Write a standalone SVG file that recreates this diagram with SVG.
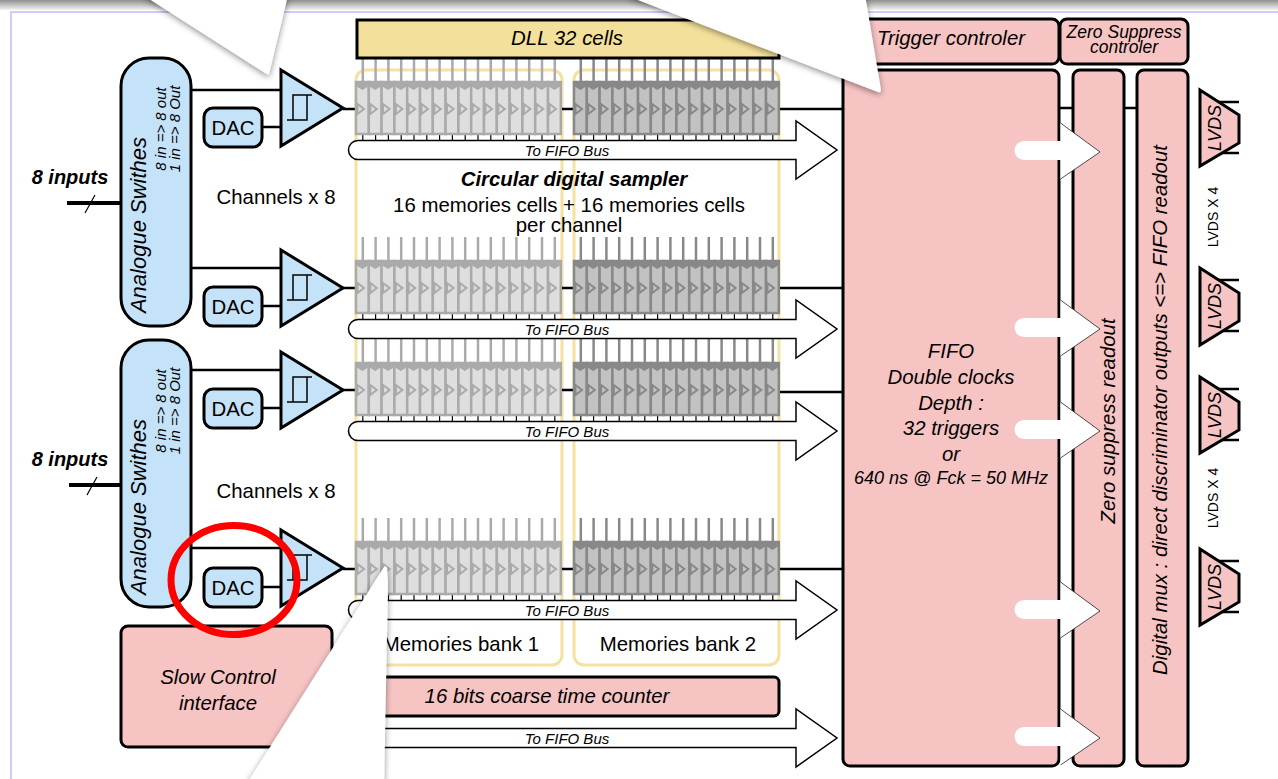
<svg xmlns="http://www.w3.org/2000/svg" xmlns:xlink="http://www.w3.org/1999/xlink" width="1278" height="779" viewBox="0 0 1278 779">
<style>
text{font-family:"Liberation Sans",Arial,sans-serif;fill:#000;text-anchor:middle}
.i{font-style:italic}
.b{font-weight:bold}
.f20{font-size:20.4px}
.blue{fill:#c5e3f8;stroke:#000;stroke-width:3}
.pink{fill:#f7c4c4;stroke:#000;stroke-width:3}
.wire{fill:none;stroke:#000;stroke-width:2.5}
.bus{fill:#fff;stroke:#000;stroke-width:1.5}
.bank{fill:none;stroke:#f5e2a0;stroke-width:3}
.c1{fill:#dedede;stroke:#aaa;stroke-width:2.5}
.c2{fill:#c2c2c2;stroke:#888;stroke-width:2.5}
.tri1{fill:none;stroke:#aaa;stroke-width:2}
.tri2{fill:none;stroke:#888;stroke-width:2}
.head1{fill:#aaa}
.head2{fill:#888}
.up1{stroke:#aaa;stroke-width:2.5}
.up2{stroke:#888;stroke-width:2.5}
.down{stroke:#000;stroke-width:1.2}
.wa{fill:#fff;stroke:none}
.wh{fill:#fff;stroke:none}
.he{fill:none;stroke:#222;stroke-width:.8}
.call{fill:#fff;filter:url(#sh)}
</style>
<defs>
<linearGradient id="band" x1="0" y1="0" x2="0" y2="1"><stop offset="0" stop-color="#909090"/><stop offset="1" stop-color="#f4f4f4"/></linearGradient>
<filter id="sh" x="-20%" y="-20%" width="140%" height="140%"><feDropShadow dx="0" dy="2" stdDeviation="3" flood-color="#000" flood-opacity=".45"/></filter>
<g id="cell1"><line class="up1" x1="6.8" y1="-24" x2="6.8" y2="0"/><line class="down" x1="6.8" y1="52" x2="6.8" y2="58"/><rect class="c1" x="0" y="0" width="12.8" height="52"/><polygon class="head1" points="0,0 12.8,0 12.8,4 6.4,8 0,4"/><polygon class="tri1" points="1.5,22 8,27 1.5,32"/></g>
<g id="cell2"><line class="up2" x1="6.8" y1="-24" x2="6.8" y2="0"/><line class="down" x1="6.8" y1="52" x2="6.8" y2="58"/><rect class="c2" x="0" y="0" width="12.8" height="52"/><polygon class="head2" points="0,0 12.8,0 12.8,4 6.4,8 0,4"/><polygon class="tri2" points="1.5,22 8,27 1.5,32"/></g>
<g id="row1"><use href="#cell1" x="0"/><use href="#cell1" x="12.8"/><use href="#cell1" x="25.6"/><use href="#cell1" x="38.4"/><use href="#cell1" x="51.2"/><use href="#cell1" x="64"/><use href="#cell1" x="76.8"/><use href="#cell1" x="89.6"/><use href="#cell1" x="102.4"/><use href="#cell1" x="115.2"/><use href="#cell1" x="128"/><use href="#cell1" x="140.8"/><use href="#cell1" x="153.6"/><use href="#cell1" x="166.4"/><use href="#cell1" x="179.2"/><use href="#cell1" x="192"/></g>
<g id="row2"><use href="#cell2" x="0"/><use href="#cell2" x="12.8"/><use href="#cell2" x="25.6"/><use href="#cell2" x="38.4"/><use href="#cell2" x="51.2"/><use href="#cell2" x="64"/><use href="#cell2" x="76.8"/><use href="#cell2" x="89.6"/><use href="#cell2" x="102.4"/><use href="#cell2" x="115.2"/><use href="#cell2" x="128"/><use href="#cell2" x="140.8"/><use href="#cell2" x="153.6"/><use href="#cell2" x="166.4"/><use href="#cell2" x="179.2"/><use href="#cell2" x="192"/></g>
<g id="busarrow"><path class="bus" d="M358,-9.500H796V-29L837,0L796,29V9.500H358A9.500,9.500 0 0 1 358,-9.500Z"/></g>
<g id="farrow"><polygon class="wh" points="1060.500,-29 1100,0 1060.500,27"/><path class="he" d="M1060.500,-29L1100,0L1060.500,27"/><path class="wa" d="M1024,-11H1063V8H1024A9.500,9.500 0 0 1 1024,-11Z"/></g>
<g id="comp"><polygon class="blue" points="281,-38 343,0 281,38"/><path d="M287,12H307V-13H293V12M307,-13H312" fill="none" stroke="#000" stroke-width="1.5"/></g>
</defs>

<rect width="1278" height="779" fill="#fff"/>
<rect x="0" y="0" width="1278" height="10" fill="url(#band)"/>
<path d="M1278,12H11V779" fill="none" stroke="#ccccff" stroke-width="2"/>

<g id="memory-banks">
<rect class="bank" x="356" y="70" width="206" height="595" rx="10"/>
<rect class="bank" x="574" y="70" width="205" height="595" rx="10"/>
</g>

<g id="connectors">
<path class="wire" d="M191,90H281M262,127H281M191,268H281M262,306H281M191,370H281M262,408H281M191,548H281M262,587H281"/>
<path class="wire" d="M343,109H356M343,288H356M343,390H356M343,569H356"/>
<path class="wire" d="M562,109H574M562,288H574M562,390H574M562,569H574"/>
<path class="wire" d="M779,109H843M779,288H843M779,392H843M779,569H843"/>
<path class="wire" d="M1056,108H1075M1122,108H1139"/>
<path d="M67,203H121M69,485H121" fill="none" stroke="#000" stroke-width="4"/>
<path d="M85,213L95,195M87,495L97,477" fill="none" stroke="#000" stroke-width="1.2"/>
<path class="wire" d="M1215,102H1239M1215,153H1239M1215,280H1239M1215,331H1239M1215,389H1239M1215,440H1239M1215,561H1239M1215,612H1239"/>
</g>

<g id="cells">
<use href="#row1" x="356" y="82"/><use href="#row2" x="574" y="82"/>
<use href="#row1" x="356" y="261"/><use href="#row2" x="574" y="261"/>
<use href="#row1" x="356" y="363"/><use href="#row2" x="574" y="363"/>
<use href="#row1" x="356" y="542"/><use href="#row2" x="574" y="542"/>
</g>

<g id="dll"><rect x="357" y="20" width="422" height="38" fill="#f3e09a" stroke="#000" stroke-width="3"/><text class="i f20" x="567" y="45">DLL 32 cells</text></g>

<g id="buses">
<use href="#busarrow" y="150"/><use href="#busarrow" y="329"/><use href="#busarrow" y="431"/><use href="#busarrow" y="610"/><use href="#busarrow" y="738"/>
<text class="i" font-size="15" x="567" y="156">To FIFO Bus</text>
<text class="i" font-size="15" x="567" y="335">To FIFO Bus</text>
<text class="i" font-size="15" x="567" y="437">To FIFO Bus</text>
<text class="i" font-size="15" x="567" y="616">To FIFO Bus</text>
<text class="i" font-size="15" x="567" y="744">To FIFO Bus</text>
</g>

<g id="switch-1"><rect class="blue" x="121" y="58" width="70" height="268" rx="28"/>
<text class="i" font-size="22" transform="translate(146,225) rotate(-90)">Analogue Swithes</text>
<text class="i" font-size="15" transform="translate(166,129) rotate(-90)">8 in =&gt; 8 out</text>
<text class="i" font-size="15" transform="translate(180,129) rotate(-90)">1 in =&gt; 8 Out</text></g>
<g id="switch-2"><rect class="blue" x="121" y="340" width="70" height="267" rx="28"/>
<text class="i" font-size="22" transform="translate(146,507) rotate(-90)">Analogue Swithes</text>
<text class="i" font-size="15" transform="translate(166,411) rotate(-90)">8 in =&gt; 8 out</text>
<text class="i" font-size="15" transform="translate(180,411) rotate(-90)">1 in =&gt; 8 Out</text></g>

<g id="comparators"><use href="#comp" y="108"/><use href="#comp" y="288"/><use href="#comp" y="390"/><use href="#comp" y="568"/></g>

<g id="dac-1"><rect class="blue" x="204" y="108" width="58" height="39" rx="9"/><text class="f20" x="233" y="135">DAC</text></g>
<g id="dac-2"><rect class="blue" x="204" y="287" width="58" height="39" rx="9"/><text class="f20" x="233" y="314">DAC</text></g>
<g id="dac-3"><rect class="blue" x="204" y="389" width="58" height="39" rx="9"/><text class="f20" x="233" y="416">DAC</text></g>
<g id="dac-4"><rect class="blue" x="204" y="568" width="58" height="39" rx="9"/><text class="f20" x="233" y="595">DAC</text></g>

<g id="labels">
<text class="i b" font-size="20" x="70" y="184">8 inputs</text>
<text class="i b" font-size="20" x="70" y="466">8 inputs</text>
<text class="f20" x="276" y="204">Channels x 8</text>
<text class="f20" x="276" y="498">Channels x 8</text>
<text class="i b f20" x="574" y="186">Circular digital sampler</text>
<text class="f20" x="569" y="212">16 memories cells + 16 memories cells</text>
<text class="f20" x="569" y="232">per channel</text>
<text class="f20" x="461" y="651">Memories bank 1</text>
<text class="f20" x="678" y="651">Memories bank 2</text>
</g>

<g id="counter"><rect class="pink" x="350" y="677" width="429" height="39" rx="5"/><text class="i f20" x="547" y="703">16 bits coarse time counter</text></g>
<g id="slow-control"><rect class="pink" x="121" y="626" width="211" height="121" rx="7"/><text class="i f20" x="218" y="684">Slow Control</text><text class="i f20" x="218" y="710">interface</text></g>

<g id="trigger"><rect class="pink" x="843" y="19" width="216" height="45" rx="7"/><text class="i f20" x="951" y="45">Trigger controler</text></g>
<g id="zs-ctrl"><rect class="pink" x="1060" y="19" width="128" height="45" rx="7"/><text class="i" font-size="17.500" x="1124" y="38">Zero Suppress</text><text class="i" font-size="17.500" x="1124" y="53">controler</text></g>
<g id="zs-readout"><rect class="pink" x="1073" y="70" width="51" height="696" rx="7"/><text class="i f20" transform="translate(1115,421) rotate(-90)">Zero suppress readout</text></g>
<g id="mux"><rect class="pink" x="1137" y="70" width="51" height="696" rx="7"/><text class="i f20" transform="translate(1167,410) rotate(-90)">Digital mux : direct discriminator outputs &lt;=&gt; FIFO readout</text></g>
<g id="fifo"><rect class="pink" x="843" y="70" width="216" height="696" rx="7"/>
<text class="i f20" x="951" y="358">FIFO</text>
<text class="i f20" x="951" y="384">Double clocks</text>
<text class="i f20" x="951" y="410">Depth :</text>
<text class="i f20" x="951" y="435">32 triggers</text>
<text class="i f20" x="951" y="461">or</text>
<text class="i" font-size="18" x="951" y="484">640 ns @ Fck = 50 MHz</text></g>

<g id="fifo-arrows">
<use href="#farrow" y="152"/><use href="#farrow" y="329"/><use href="#farrow" y="431"/><use href="#farrow" y="611"/><use href="#farrow" y="738"/>
</g>

<g id="lvds-1"><polygon class="blue" style="fill:#f7c4c4" points="1200,90 1239,115 1239,143 1200,166"/><text class="i" font-size="18" transform="translate(1221,128) rotate(-90)">LVDS</text></g>
<g id="lvds-2"><polygon class="blue" style="fill:#f7c4c4" points="1200,268 1239,293 1239,321 1200,345"/><text class="i" font-size="18" transform="translate(1221,306) rotate(-90)">LVDS</text></g>
<g id="lvds-3"><polygon class="blue" style="fill:#f7c4c4" points="1200,377 1239,402 1239,430 1200,453"/><text class="i" font-size="18" transform="translate(1221,415) rotate(-90)">LVDS</text></g>
<g id="lvds-4"><polygon class="blue" style="fill:#f7c4c4" points="1200,549 1239,574 1239,602 1200,625"/><text class="i" font-size="18" transform="translate(1221,587) rotate(-90)">LVDS</text></g>
<text font-size="14" transform="translate(1218,217) rotate(-90)">LVDS X 4</text>
<text font-size="14" transform="translate(1218,498) rotate(-90)">LVDS X 4</text>

<g id="callouts">
<path class="call" d="M143,-5L265,73Q268,75 269,74L288,-5Z"/>
<path class="call" d="M625,-5L878,92Q881,93 881,90L865,-5Z"/>
<path class="call" d="M384,567Q386,565 387,568L388,583L384,785H246Z"/>
</g>

<ellipse id="highlight" cx="234" cy="580" rx="63" ry="54.500" fill="none" stroke="#f00" stroke-width="7"/>
</svg>
